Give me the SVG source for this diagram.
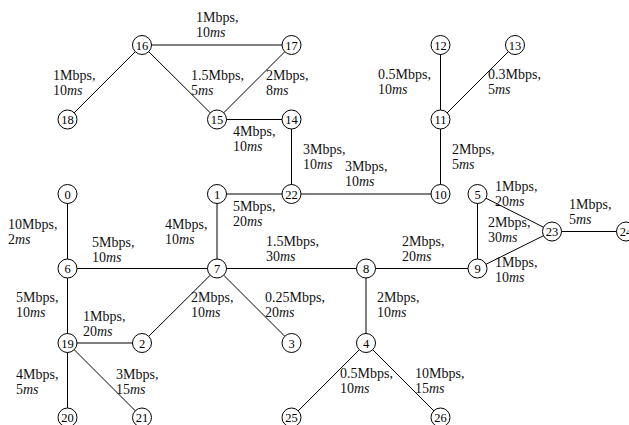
<svg xmlns="http://www.w3.org/2000/svg" width="629" height="425" viewBox="0 0 629 425">
<style>
.e{stroke:#000;stroke-width:1;fill:none}
.n circle{fill:#fff;stroke:#000;stroke-width:1}
.n text{font-family:'Liberation Serif','DejaVu Serif',serif;font-size:12.5px;text-anchor:middle;fill:#000}
.l{font-family:'Liberation Serif','DejaVu Serif',serif;font-size:14px;fill:#111}
.i{font-style:italic}
</style>
<rect width="629" height="425" fill="#fff"/>
<g id="connectors">
<line class="e" x1="142" y1="45" x2="291.5" y2="45"/>
<line class="e" x1="142" y1="45" x2="67.5" y2="119.5"/>
<line class="e" x1="142" y1="45" x2="217" y2="119.5"/>
<line class="e" x1="291.5" y1="45" x2="217" y2="119.5"/>
<line class="e" x1="217" y1="119.5" x2="291.5" y2="119.5"/>
<line class="e" x1="291.5" y1="119.5" x2="291.5" y2="194"/>
<line class="e" x1="217" y1="194" x2="291.5" y2="194"/>
<line class="e" x1="291.5" y1="194" x2="440.5" y2="194"/>
<line class="e" x1="440.5" y1="194" x2="440.5" y2="119.5"/>
<line class="e" x1="440.5" y1="119.5" x2="440.5" y2="45"/>
<line class="e" x1="440.5" y1="119.5" x2="515" y2="45"/>
<line class="e" x1="217" y1="194" x2="217" y2="268.5"/>
<line class="e" x1="67.5" y1="194" x2="67.5" y2="268.5"/>
<line class="e" x1="67.5" y1="268.5" x2="217" y2="268.5"/>
<line class="e" x1="217" y1="268.5" x2="366" y2="268.5"/>
<line class="e" x1="366" y1="268.5" x2="477.5" y2="268.5"/>
<line class="e" x1="477.5" y1="268.5" x2="477.5" y2="194"/>
<line class="e" x1="477.5" y1="194" x2="552" y2="231.5"/>
<line class="e" x1="477.5" y1="268.5" x2="552" y2="231.5"/>
<line class="e" x1="552" y1="231.5" x2="626" y2="231.5"/>
<line class="e" x1="67.5" y1="268.5" x2="67.5" y2="343"/>
<line class="e" x1="67.5" y1="343" x2="142" y2="343"/>
<line class="e" x1="217" y1="268.5" x2="142" y2="343"/>
<line class="e" x1="217" y1="268.5" x2="291.5" y2="343"/>
<line class="e" x1="67.5" y1="343" x2="67.5" y2="417.5"/>
<line class="e" x1="67.5" y1="343" x2="142" y2="417.5"/>
<line class="e" x1="366" y1="268.5" x2="366" y2="343"/>
<line class="e" x1="366" y1="343" x2="291.5" y2="417.5"/>
<line class="e" x1="366" y1="343" x2="440.5" y2="417.5"/>
</g>
<g id="labels" font-family="'Liberation Serif', 'DejaVu Serif', serif">
<text class="l" x="196" y="22">1Mbps,<tspan x="196" y="37">10<tspan class="i">ms</tspan></tspan></text>
<text class="l" x="53" y="80">1Mbps,<tspan x="53" y="95">10<tspan class="i">ms</tspan></tspan></text>
<text class="l" x="191" y="80">1.5Mbps,<tspan x="191" y="95">5<tspan class="i">ms</tspan></tspan></text>
<text class="l" x="266" y="80">2Mbps,<tspan x="266" y="95">8<tspan class="i">ms</tspan></tspan></text>
<text class="l" x="233" y="136">4Mbps,<tspan x="233" y="151">10<tspan class="i">ms</tspan></tspan></text>
<text class="l" x="378" y="79">0.5Mbps,<tspan x="378" y="94">10<tspan class="i">ms</tspan></tspan></text>
<text class="l" x="488" y="79">0.3Mbps,<tspan x="488" y="94">5<tspan class="i">ms</tspan></tspan></text>
<text class="l" x="303" y="154">3Mbps,<tspan x="303" y="169">10<tspan class="i">ms</tspan></tspan></text>
<text class="l" x="345" y="171">3Mbps,<tspan x="345" y="186">10<tspan class="i">ms</tspan></tspan></text>
<text class="l" x="452" y="154">2Mbps,<tspan x="452" y="169">5<tspan class="i">ms</tspan></tspan></text>
<text class="l" x="495" y="191">1Mbps,<tspan x="495" y="206">20<tspan class="i">ms</tspan></tspan></text>
<text class="l" x="488" y="227">2Mbps,<tspan x="488" y="242">30<tspan class="i">ms</tspan></tspan></text>
<text class="l" x="495" y="267">1Mbps,<tspan x="495" y="282">10<tspan class="i">ms</tspan></tspan></text>
<text class="l" x="569" y="209">1Mbps,<tspan x="569" y="224">5<tspan class="i">ms</tspan></tspan></text>
<text class="l" x="402" y="246">2Mbps,<tspan x="402" y="261">20<tspan class="i">ms</tspan></tspan></text>
<text class="l" x="8" y="229">10Mbps,<tspan x="8" y="244">2<tspan class="i">ms</tspan></tspan></text>
<text class="l" x="92" y="247">5Mbps,<tspan x="92" y="262">10<tspan class="i">ms</tspan></tspan></text>
<text class="l" x="165" y="229">4Mbps,<tspan x="165" y="244">10<tspan class="i">ms</tspan></tspan></text>
<text class="l" x="233" y="211">5Mbps,<tspan x="233" y="226">20<tspan class="i">ms</tspan></tspan></text>
<text class="l" x="266" y="246">1.5Mbps,<tspan x="266" y="261">30<tspan class="i">ms</tspan></tspan></text>
<text class="l" x="16" y="302">5Mbps,<tspan x="16" y="317">10<tspan class="i">ms</tspan></tspan></text>
<text class="l" x="83" y="321">1Mbps,<tspan x="83" y="336">20<tspan class="i">ms</tspan></tspan></text>
<text class="l" x="191" y="302">2Mbps,<tspan x="191" y="317">10<tspan class="i">ms</tspan></tspan></text>
<text class="l" x="265" y="302">0.25Mbps,<tspan x="265" y="317">20<tspan class="i">ms</tspan></tspan></text>
<text class="l" x="16" y="379">4Mbps,<tspan x="16" y="394">5<tspan class="i">ms</tspan></tspan></text>
<text class="l" x="116" y="379">3Mbps,<tspan x="116" y="394">15<tspan class="i">ms</tspan></tspan></text>
<text class="l" x="377" y="302">2Mbps,<tspan x="377" y="317">10<tspan class="i">ms</tspan></tspan></text>
<text class="l" x="340" y="378">0.5Mbps,<tspan x="340" y="393">10<tspan class="i">ms</tspan></tspan></text>
<text class="l" x="415" y="378">10Mbps,<tspan x="415" y="393">15<tspan class="i">ms</tspan></tspan></text>
</g>
<g id="n0" class="n"><circle cx="67.5" cy="194" r="9.5"/><text x="67.5" y="198.5">0</text></g>
<g id="n1" class="n"><circle cx="217" cy="194" r="9.5"/><text x="217" y="198.5">1</text></g>
<g id="n2" class="n"><circle cx="142" cy="343" r="9.5"/><text x="142" y="347.5">2</text></g>
<g id="n3" class="n"><circle cx="291.5" cy="343" r="9.5"/><text x="291.5" y="347.5">3</text></g>
<g id="n4" class="n"><circle cx="366" cy="343" r="9.5"/><text x="366" y="347.5">4</text></g>
<g id="n5" class="n"><circle cx="477.5" cy="194" r="9.5"/><text x="477.5" y="198.5">5</text></g>
<g id="n6" class="n"><circle cx="67.5" cy="268.5" r="9.5"/><text x="67.5" y="273">6</text></g>
<g id="n7" class="n"><circle cx="217" cy="268.5" r="9.5"/><text x="217" y="273">7</text></g>
<g id="n8" class="n"><circle cx="366" cy="268.5" r="9.5"/><text x="366" y="273">8</text></g>
<g id="n9" class="n"><circle cx="477.5" cy="268.5" r="9.5"/><text x="477.5" y="273">9</text></g>
<g id="n10" class="n"><circle cx="440.5" cy="194" r="9.5"/><text x="440.5" y="198.5">10</text></g>
<g id="n11" class="n"><circle cx="440.5" cy="119.5" r="9.5"/><text x="440.5" y="124">11</text></g>
<g id="n12" class="n"><circle cx="440.5" cy="45" r="9.5"/><text x="440.5" y="49.5">12</text></g>
<g id="n13" class="n"><circle cx="515" cy="45" r="9.5"/><text x="515" y="49.5">13</text></g>
<g id="n14" class="n"><circle cx="291.5" cy="119.5" r="9.5"/><text x="291.5" y="124">14</text></g>
<g id="n15" class="n"><circle cx="217" cy="119.5" r="9.5"/><text x="217" y="124">15</text></g>
<g id="n16" class="n"><circle cx="142" cy="45" r="9.5"/><text x="142" y="49.5">16</text></g>
<g id="n17" class="n"><circle cx="291.5" cy="45" r="9.5"/><text x="291.5" y="49.5">17</text></g>
<g id="n18" class="n"><circle cx="67.5" cy="119.5" r="9.5"/><text x="67.5" y="124">18</text></g>
<g id="n19" class="n"><circle cx="67.5" cy="343" r="9.5"/><text x="67.5" y="347.5">19</text></g>
<g id="n20" class="n"><circle cx="67.5" cy="417.5" r="9.5"/><text x="67.5" y="422">20</text></g>
<g id="n21" class="n"><circle cx="142" cy="417.5" r="9.5"/><text x="142" y="422">21</text></g>
<g id="n22" class="n"><circle cx="291.5" cy="194" r="9.5"/><text x="291.5" y="198.5">22</text></g>
<g id="n23" class="n"><circle cx="552" cy="231.5" r="9.5"/><text x="552" y="236">23</text></g>
<g id="n24" class="n"><circle cx="626" cy="231.5" r="9.5"/><text x="626" y="236">24</text></g>
<g id="n25" class="n"><circle cx="291.5" cy="417.5" r="9.5"/><text x="291.5" y="422">25</text></g>
<g id="n26" class="n"><circle cx="440.5" cy="417.5" r="9.5"/><text x="440.5" y="422">26</text></g>
</svg>
